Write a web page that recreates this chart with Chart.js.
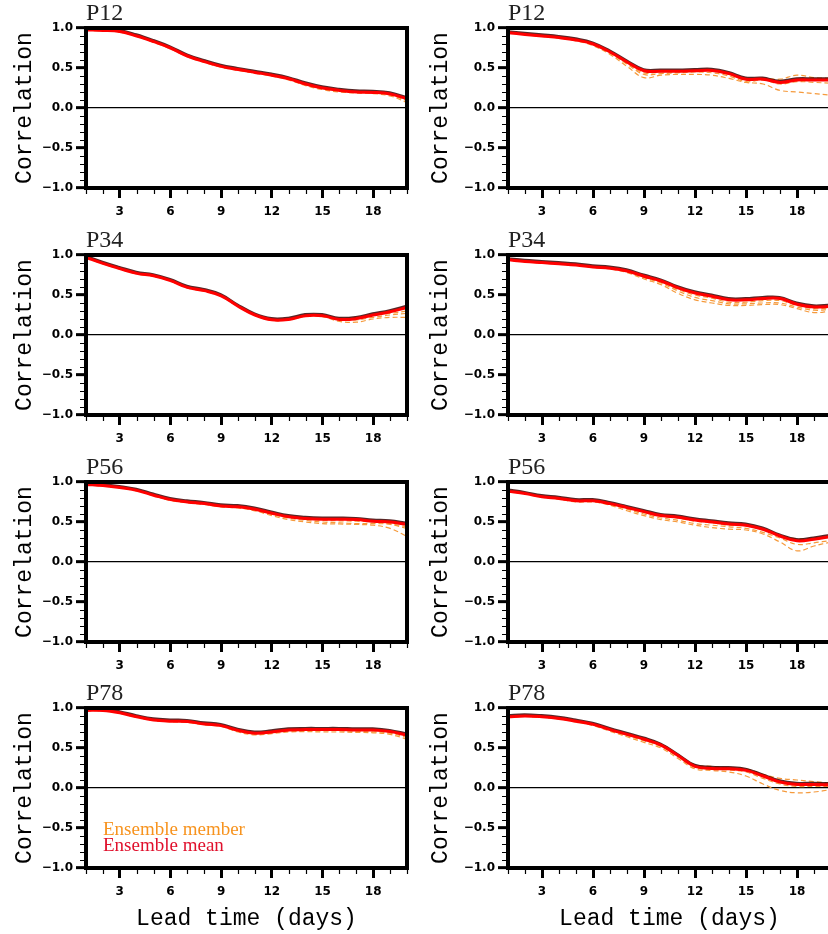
<!DOCTYPE html>
<html><head><meta charset="utf-8">
<script src="https://cdn.jsdelivr.net/npm/chart.js@4.4.1/dist/chart.umd.min.js"></script>
<style>
html,body{margin:0;padding:0;background:#fff;width:828px;height:934px;overflow:hidden;position:relative}
canvas{position:absolute;display:block}
</style></head><body>
<script>
// ---------- data ----------
const days = [1,2,3,4,5,6,7,8,9,10,11,12,13,14,15,16,17,18,19,20];
const xTickValues = [3,6,9,12,15,18];
const panelNames = ['P12','P34','P56','P78'];
const legendLabels = ['Ensemble member','Ensemble mean'];
const xTitle = 'Lead time (days)';
const yTitle = 'Correlation';

// left column
const meanLeftP12 = [0.975,0.97,0.955,0.90,0.83,0.75,0.65,0.58,0.52,0.48,0.445,0.41,0.365,0.30,0.25,0.22,0.20,0.195,0.175,0.115];
const membersLeftP12 = [
  [0.97,0.965,0.95,0.895,0.82,0.74,0.64,0.57,0.51,0.47,0.435,0.40,0.35,0.28,0.23,0.20,0.19,0.18,0.15,0.07],
  [0.975,0.97,0.955,0.90,0.83,0.75,0.65,0.575,0.515,0.475,0.44,0.405,0.36,0.29,0.24,0.21,0.19,0.19,0.17,0.10],
  [0.97,0.97,0.95,0.90,0.825,0.745,0.645,0.58,0.52,0.48,0.44,0.41,0.36,0.295,0.245,0.215,0.20,0.19,0.165,0.09]
];
const meanLeftP34 = [0.97,0.895,0.83,0.77,0.74,0.68,0.595,0.555,0.49,0.36,0.25,0.19,0.195,0.24,0.24,0.195,0.205,0.25,0.29,0.345];
const membersLeftP34 = [
  [0.97,0.89,0.825,0.765,0.735,0.675,0.59,0.55,0.485,0.355,0.245,0.185,0.19,0.235,0.23,0.17,0.16,0.20,0.22,0.22],
  [0.97,0.895,0.83,0.77,0.74,0.68,0.59,0.55,0.49,0.36,0.25,0.19,0.195,0.24,0.235,0.19,0.19,0.22,0.25,0.27],
  [0.965,0.89,0.83,0.765,0.735,0.675,0.59,0.55,0.485,0.355,0.245,0.185,0.19,0.235,0.24,0.21,0.22,0.25,0.27,0.30]
];
const meanLeftP56 = [0.97,0.955,0.93,0.895,0.835,0.78,0.75,0.73,0.70,0.69,0.66,0.61,0.565,0.545,0.535,0.535,0.53,0.51,0.50,0.47];
const membersLeftP56 = [
  [0.965,0.95,0.925,0.89,0.83,0.77,0.74,0.72,0.69,0.675,0.64,0.58,0.53,0.50,0.48,0.475,0.47,0.46,0.42,0.32],
  [0.97,0.95,0.93,0.89,0.83,0.775,0.745,0.725,0.695,0.68,0.65,0.595,0.55,0.52,0.50,0.49,0.48,0.48,0.47,0.42],
  [0.97,0.955,0.93,0.895,0.835,0.775,0.75,0.73,0.70,0.685,0.655,0.60,0.56,0.535,0.52,0.515,0.51,0.50,0.48,0.44]
];
const meanLeftP78 = [0.97,0.97,0.94,0.89,0.85,0.835,0.83,0.80,0.78,0.72,0.685,0.70,0.725,0.73,0.73,0.73,0.725,0.725,0.705,0.66];
const membersLeftP78 = [
  [0.965,0.965,0.935,0.885,0.845,0.83,0.82,0.79,0.77,0.70,0.665,0.68,0.70,0.705,0.70,0.70,0.695,0.69,0.67,0.61],
  [0.97,0.965,0.935,0.885,0.845,0.83,0.825,0.795,0.775,0.71,0.675,0.69,0.71,0.715,0.715,0.715,0.71,0.70,0.685,0.63],
  [0.97,0.97,0.94,0.89,0.85,0.835,0.825,0.80,0.78,0.715,0.68,0.695,0.72,0.725,0.725,0.72,0.715,0.715,0.695,0.645]
];
// right column
const meanRightP12 = [0.94,0.92,0.90,0.88,0.85,0.80,0.70,0.575,0.465,0.46,0.46,0.465,0.47,0.43,0.36,0.36,0.32,0.35,0.35,0.35];
const membersRightP12 = [
  [0.94,0.915,0.895,0.875,0.84,0.78,0.67,0.52,0.38,0.41,0.42,0.42,0.41,0.37,0.32,0.30,0.22,0.20,0.18,0.16],
  [0.94,0.92,0.90,0.88,0.85,0.79,0.69,0.56,0.44,0.45,0.45,0.46,0.47,0.42,0.35,0.37,0.36,0.41,0.38,0.37],
  [0.94,0.92,0.90,0.875,0.845,0.79,0.685,0.55,0.42,0.43,0.44,0.45,0.44,0.40,0.33,0.35,0.30,0.33,0.32,0.31]
];
const meanRightP34 = [0.94,0.92,0.905,0.89,0.875,0.85,0.835,0.80,0.735,0.675,0.59,0.525,0.485,0.44,0.44,0.455,0.455,0.385,0.35,0.36];
const membersRightP34 = [
  [0.94,0.915,0.90,0.885,0.87,0.845,0.825,0.78,0.70,0.63,0.52,0.44,0.40,0.37,0.37,0.38,0.38,0.33,0.28,0.30],
  [0.94,0.92,0.90,0.89,0.87,0.845,0.83,0.79,0.715,0.65,0.55,0.47,0.43,0.39,0.39,0.40,0.40,0.35,0.31,0.32],
  [0.94,0.92,0.905,0.89,0.875,0.85,0.83,0.795,0.725,0.66,0.57,0.50,0.46,0.41,0.41,0.43,0.43,0.37,0.33,0.34]
];
const meanRightP56 = [0.885,0.855,0.815,0.795,0.765,0.765,0.73,0.68,0.63,0.58,0.56,0.525,0.50,0.475,0.46,0.41,0.325,0.265,0.285,0.32];
const membersRightP56 = [
  [0.885,0.85,0.81,0.785,0.75,0.75,0.71,0.64,0.58,0.53,0.50,0.46,0.43,0.41,0.40,0.35,0.25,0.14,0.20,0.25],
  [0.885,0.855,0.815,0.79,0.76,0.755,0.72,0.66,0.60,0.55,0.52,0.48,0.46,0.44,0.42,0.37,0.30,0.22,0.24,0.27],
  [0.885,0.855,0.815,0.79,0.76,0.76,0.725,0.67,0.62,0.57,0.55,0.51,0.49,0.46,0.45,0.40,0.33,0.29,0.30,0.31]
];
const meanRightP78 = [0.89,0.90,0.89,0.87,0.835,0.795,0.73,0.67,0.61,0.535,0.405,0.27,0.245,0.24,0.22,0.15,0.075,0.045,0.045,0.04];
const membersRightP78 = [
  [0.89,0.895,0.885,0.865,0.825,0.78,0.71,0.64,0.57,0.50,0.37,0.24,0.22,0.20,0.15,0.05,-0.03,-0.06,-0.05,-0.02],
  [0.89,0.90,0.89,0.87,0.835,0.795,0.735,0.68,0.62,0.55,0.42,0.29,0.27,0.25,0.24,0.17,0.12,0.10,0.08,0.06],
  [0.89,0.895,0.885,0.865,0.83,0.79,0.72,0.655,0.59,0.52,0.39,0.26,0.235,0.225,0.20,0.12,0.05,0.02,0.02,0.02]
];

// ---------- layout / style ----------
const MEAN_COLOR = '#ff0000';
const MEMBER_COLOR = '#f59a3c';
const LEGEND_MEMBER_COLOR = '#f7931e';
const LEGEND_MEAN_COLOR = '#e0102c';
const rowTops = [0, 227, 454, 680];
const rowHeights = [227, 227, 226, 254];

const panels = [
  {col:0,row:0,name:panelNames[0],mean:meanLeftP12,members:membersLeftP12},
  {col:1,row:0,name:panelNames[0],mean:meanRightP12,members:membersRightP12},
  {col:0,row:1,name:panelNames[1],mean:meanLeftP34,members:membersLeftP34},
  {col:1,row:1,name:panelNames[1],mean:meanRightP34,members:membersRightP34},
  {col:0,row:2,name:panelNames[2],mean:meanLeftP56,members:membersLeftP56},
  {col:1,row:2,name:panelNames[2],mean:meanRightP56,members:membersRightP56},
  {col:0,row:3,name:panelNames[3],mean:meanLeftP78,members:membersLeftP78,legend:true},
  {col:1,row:3,name:panelNames[3],mean:meanRightP78,members:membersRightP78}
];

const toXY = arr => days.map((d,i)=>({x:d,y:arr[i]}));

const framePlugin = {
  id:'frame',
  afterDraw(chart){
    const {ctx, chartArea:a, scales:{x,y}} = chart;
    ctx.save();
    ctx.strokeStyle = '#000';
    // minor ticks
    ctx.lineWidth = 1.2;
    ctx.beginPath();
    for (let k=-10;k<=10;k++){
      if (k%5===0) continue;
      const py = Math.round(y.getPixelForValue(k/10))+0.5;
      ctx.moveTo(a.left, py); ctx.lineTo(a.left-6, py);
    }
    days.forEach(d=>{
      if (d%3===0) return;
      const px = Math.round(x.getPixelForValue(d))+0.5;
      ctx.moveTo(px, a.bottom); ctx.lineTo(px, a.bottom+6);
    });
    ctx.stroke();
    // thick frame
    ctx.lineWidth = 4;
    ctx.strokeRect(a.left, a.top, a.right-a.left, a.bottom-a.top);
    ctx.restore();
  }
};

const shadowPlugin = {
  id:'meanShadow',
  beforeDatasetDraw(chart,args){
    if (args.index===0){
      const ctx = chart.ctx;
      ctx.save();
      ctx.shadowColor = 'rgba(60,0,0,0.85)';
      ctx.shadowOffsetX = -0.5;
      ctx.shadowOffsetY = -1.2;
      ctx.shadowBlur = 0;
    }
  },
  afterDatasetDraw(chart,args){
    if (args.index===0) chart.ctx.restore();
  }
};

const legendPlugin = {
  id:'textLegend',
  afterDraw(chart){
    if (!chart.options.plugins.textLegend || !chart.options.plugins.textLegend.show) return;
    const {ctx, chartArea:a} = chart;
    ctx.save();
    ctx.font = '19px "Liberation Serif", "Times New Roman", serif';
    ctx.textAlign = 'left';
    ctx.textBaseline = 'alphabetic';
    ctx.fillStyle = LEGEND_MEMBER_COLOR;
    ctx.fillText(legendLabels[0], a.left+17, a.top+127);
    ctx.fillStyle = LEGEND_MEAN_COLOR;
    ctx.fillText(legendLabels[1], a.left+17, a.top+143);
    ctx.restore();
  }
};

panels.forEach(p=>{
  const c = document.createElement('canvas');
  const left = p.col ? 420 : 0;
  const top = rowTops[p.row];
  const h = rowHeights[p.row];
  c.width = 420; c.height = h;
  c.style.left = left+'px'; c.style.top = top+'px';
  c.style.width = '420px'; c.style.height = h+'px';
  document.body.appendChild(c);
  const bottomRow = p.row===3;
  const xH = h - 28 - 160;
  const datasets = [
    {label:legendLabels[1], data:toXY(p.mean), borderColor:MEAN_COLOR, borderWidth:3, pointRadius:0, tension:0.4, fill:false}
  ].concat(p.members.map((m,i)=>({
    label:legendLabels[0]+' '+(i+1), data:toXY(m), borderColor:MEMBER_COLOR, borderWidth:1.2, borderDash:[5,3], pointRadius:0, tension:0.4, fill:false
  })));
  new Chart(c, {
    type:'line',
    data:{datasets},
    options:{
      responsive:false, animation:false, devicePixelRatio:1,
      layout:{padding:{top:2,left:0,right:p.col?9:13,bottom:0}},
      plugins:{
        legend:{display:false}, tooltip:{enabled:false},
        textLegend:{show:!!p.legend},
        title:{display:true, text:p.name, align:'start', fullSize:false, color:'#222',
          font:{family:'"Liberation Serif", "Times New Roman", serif', size:24, weight:'normal', lineHeight:1},
          padding:{top:0,bottom:2}}
      },
      scales:{
        x:{type:'linear', min:1, max:20,
          afterBuildTicks:s=>{ s.ticks = xTickValues.map(v=>({value:v})); },
          afterFit:s=>{ s.height = xH; },
          grid:{display:true, drawOnChartArea:false, drawTicks:true, tickLength:10, tickWidth:3, tickColor:'#000', color:'#000'},
          border:{display:false},
          ticks:{autoSkip:false, maxRotation:0, padding:7, color:'#000',
            font:{family:'"DejaVu Sans", sans-serif', size:12, weight:'bold'}},
          title: bottomRow ? {display:true, text:xTitle, color:'#000',
            font:{family:'"Liberation Mono", "Courier New", monospace', size:23, weight:'normal'},
            padding:{top:0,bottom:1}} : {display:false}
        },
        y:{min:-1, max:1,
          afterFit:s=>{ s.width = p.col?88:86; },
          ticks:{stepSize:0.5, padding:3, color:'#000',
            font:{family:'"DejaVu Sans", sans-serif', size:12, weight:'bold'},
            callback:v=> (v<0?'\u2212':'') + Math.abs(v).toFixed(1)},
          grid:{drawOnChartArea:true, tickLength:10, tickWidth:3, tickColor:'#000',
            color:ctx=> (ctx.tick && Math.abs(ctx.tick.value)<1e-9) ? '#000' : 'rgba(0,0,0,0)',
            lineWidth:1.3},
          border:{display:false},
          title:{display:true, text:yTitle, color:'#000',
            font:{family:'"Liberation Mono", "Courier New", monospace', size:23, weight:'normal'},
            padding:{top:p.col?7:11,bottom:0}}
        }
      }
    },
    plugins:[framePlugin, shadowPlugin, legendPlugin]
  });
});
</script>
</body></html>
